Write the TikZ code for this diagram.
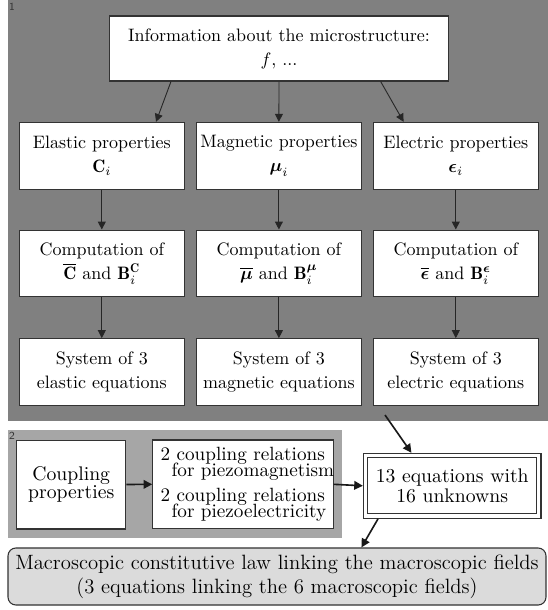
\documentclass[tikz,border=0pt]{standalone}
\RequirePackage{fix-cm}
\usepackage{amsmath}
\usepackage{fontspec}
\usetikzlibrary{arrows.meta,calc}
\newcommand\tightlines{\lineskiplimit=-20pt\relax}
\begin{document}
\begin{tikzpicture}[x=0.5556pt,y=-0.5556pt,
  box/.style={draw=black!80, fill=white, line width=0.6pt, inner sep=0pt, align=center,
    font=\fontsize{10}{13.3}\selectfont},
  rowbox/.style={box, minimum width=91.7pt, minimum height=37.05pt},
  lowbox/.style={box, font={\fontsize{10.95}{11.1}\selectfont\tightlines}},
  arr/.style={-{Triangle[length=4.4pt,width=4.4pt]}, line width=0.5pt, draw=black!85},
  arrthick/.style={-{Triangle[length=4.8pt,width=4.8pt]}, line width=0.9pt, draw=black!90},
  tag/.style={font=\sffamily\fontsize{6}{6}\selectfont, inner sep=0pt, text=black!80}
]
\useasboundingbox (0,0) rectangle (548,610);
% regions
\fill[gray] (7.5,0) rectangle (548,421);
\fill[gray!70] (7.7,430) rectangle (342,538);
\node[tag] (t1) at (12,7) {1};
\node[tag] (t2) at (12,436) {2};

% top
\node[box, minimum width=188.6pt, minimum height=36.1pt] (top) at (279,48.5)
  {Information about the microstructure:\\ $f$, ...};

% row 2
\node[rowbox] (b1) at (101.8,155.7) {Elastic properties\\ $\mathbf{C}_i$};
\node[rowbox] (b2) at (278.9,155.7) {Magnetic properties\\ $\boldsymbol{\mu}_i$};
\node[rowbox] (b3) at (455.8,155.7) {Electric properties\\ $\boldsymbol{\epsilon}_i$};
% row 3
\node[rowbox] (c1) at (101.8,263.4) {Computation of\\ $\overline{\mathbf{C}}$ and $\mathbf{B}_i^{\mathbf{C}}$};
\node[rowbox] (c2) at (278.9,263.4) {Computation of\\ $\overline{\boldsymbol{\mu}}$ and $\mathbf{B}_i^{\boldsymbol{\mu}}$};
\node[rowbox] (c3) at (455.8,263.4) {Computation of\\ $\overline{\boldsymbol{\epsilon}}$ and $\mathbf{B}_i^{\boldsymbol{\epsilon}}$};
% row 4
\node[rowbox] (d1) at (101.8,372) {System of 3\\ elastic equations};
\node[rowbox] (d2) at (278.9,372) {System of 3\\ magnetic equations};
\node[rowbox] (d3) at (455.8,372) {System of 3\\ electric equations};

% lower part
\node[lowbox, minimum width=60.8pt, minimum height=49.4pt,
  font={\fontsize{10.95}{9.8}\selectfont\tightlines}] (cp) at (71.2,484.5)
  {Coupling\\ properties};
\node[lowbox, minimum height=49.2pt, align=left, inner xsep=4.4pt, text width=91.4pt,
  font={\fontsize{10.65}{9}\selectfont\tightlines}] (rel) at (242.9,484.3)
  {\mbox{2 coupling relations}\\ \mbox{\hspace*{6.1pt}for piezomagnetism}\\[4.6pt]
   \mbox{2 coupling relations}\\ \mbox{\hspace*{6.1pt}for piezoelectricity}};
\node[lowbox, minimum width=98.7pt, minimum height=36.1pt] (eq) at (452.2,485.8)
  {13 equations with\\ 16 unknowns};
\draw[black!80, line width=0.6pt] ($(eq.south west)+(5,-5)$) rectangle ($(eq.north east)+(-5,5)$);
\node[box, fill=black!14, rounded corners=4.4pt, minimum width=298.9pt, minimum height=31.7pt,
  font=\fontsize{11.5}{13.3}\selectfont] (law) at (277,576.5)
  {Macroscopic constitutive law linking the macroscopic fields\\
   (3 equations linking the 6 macroscopic fields)};

% connectors
\draw[arr] (top.197.35) -- (b1.32.1);
\draw[arr] (top.south) -- (b2.north);
\draw[arr] (top.342.6) -- (b3.147.5);
\foreach \i in {1,2,3}{
  \draw[arr] (b\i.south) -- (c\i.north);
  \draw[arr] (c\i.south) -- (d\i.north);
}
\coordinate (r1out) at (385,415);
\draw[arrthick] (r1out) -- (eq.141.7);
\draw[arrthick] (cp.east) -- (rel.west);
\draw[arrthick] (rel.east) -- (eq.west);
\draw[arrthick] (eq.204.3) -- (law.19.2);
\end{tikzpicture}
\end{document}
